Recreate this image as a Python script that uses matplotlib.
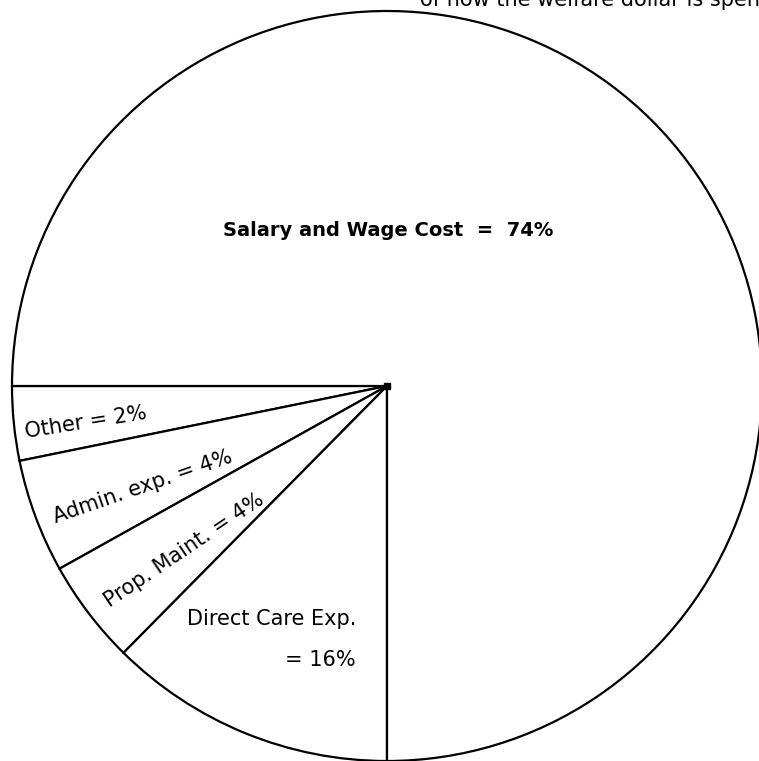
import matplotlib.pyplot as plt

# wedges in drawing order, starting at 9 o'clock and going down / round
categories = ["Other", "Admin. exp.", "Prop. Maint.", "Direct Care Exp.", "Salary and Wage Cost"]
printed_pct = [2, 4, 4, 16, 74]
# share of the circle each wedge really takes in the drawing
drawn_share = [3.2, 4.9, 4.5, 12.4, 75.0]

W, H = 759, 761
fig = plt.figure(figsize=(W / 100, H / 100), dpi=100)
ax = fig.add_axes([0, 0, 1, 1])

centre = (387, H - 386)
ax.pie(drawn_share, startangle=180, counterclock=True,
       radius=375, center=centre, frame=True,
       wedgeprops=dict(facecolor="white", edgecolor="black", linewidth=1.6))
ax.plot(*centre, marker="s", ms=4, color="black")
ax.set_xlim(0, W)
ax.set_ylim(0, H)
ax.set_aspect("auto")
ax.axis("off")

font = dict(family="DejaVu Sans", color="black", fontsize=15)

def lab(i):
    return "%s = %d%%" % (categories[i], printed_pct[i])

# title, cut off by the top and right edges as in the scan
ax.text(420, H - 6, "of how the welfare dollar is spent", ha="left", va="baseline",
        clip_on=False, **font)

ax.text(388, H - 230, "%s  =  %d%%" % (categories[4], printed_pct[4]),
        ha="center", va="center", fontweight="bold", **dict(font, fontsize=14))

ax.text(86, H - 422, lab(0), rotation=9, ha="center", va="center",
        rotation_mode="anchor", **font)
ax.text(143, H - 487, lab(1), rotation=19, ha="center", va="center",
        rotation_mode="anchor", **font)
ax.text(184, H - 550, lab(2), rotation=34, ha="center", va="center",
        rotation_mode="anchor", **font)
ax.text(272, H - 619, categories[3], ha="center", va="center", **font)
ax.text(320, H - 660, "= %d%%" % printed_pct[3], ha="center", va="center", **font)

fig.savefig("out.png", dpi=100)
